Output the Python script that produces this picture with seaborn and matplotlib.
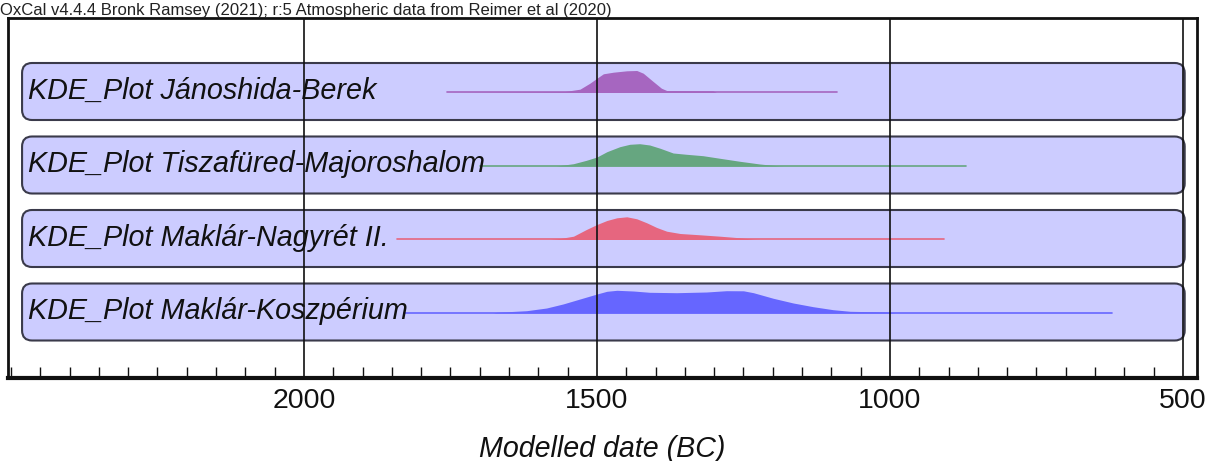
import matplotlib
matplotlib.use("Agg")
import matplotlib.pyplot as plt
from matplotlib.patches import FancyBboxPatch
from matplotlib.ticker import MultipleLocator, FixedLocator
import pandas as pd
import seaborn as sns

header = "OxCal v4.4.4 Bronk Ramsey (2021); r:5 Atmospheric data from Reimer et al (2020)"
labels = ["KDE_Plot Jánoshida-Berek", "KDE_Plot Tiszafüred-Majoroshalom",
          "KDE_Plot Maklár-Nagyrét II.", "KDE_Plot Maklár-Koszpérium"]
colors = ["#a666c0", "#66a680", "#e6667f", "#6666ff"]
major_ticks = [2000, 1500, 1000, 500]

# density outlines (year BC, height)
janoshida_year = [1756, 1555, 1529, 1512, 1500, 1489, 1472, 1449, 1432, 1421, 1404, 1390, 1381, 1302, 1296, 1090]
janoshida_dens = [0, 1, 3.3, 9.3, 14.3, 18.7, 20.3, 21.7, 22, 19.3, 11, 4.3, 2, 1.7, 0, 0]

tisza_year = [1700, 1569, 1540, 1518, 1500, 1483, 1461, 1444, 1427, 1410, 1392, 1370, 1347,
              1319, 1290, 1256, 1222, 1193, 1182, 870]
tisza_dens = [0, 0, 2.3, 5.7, 9, 14.3, 19.3, 21.7, 22.3, 21, 17.7, 13, 11.7,
              10.3, 7.7, 4.7, 2, 0.3, 0, 0]

nagyret_year = [1842, 1580, 1563, 1540, 1518, 1500, 1483, 1466, 1449, 1432, 1415, 1398, 1381,
                1358, 1324, 1290, 1256, 1233, 1222, 907]
nagyret_dens = [0, 0, 1, 3.3, 10, 15, 19, 21.7, 22.7, 20.7, 16.7, 12, 8.3,
                6, 4.7, 3.3, 1.7, 0.3, 0, 0]

koszp_year = [1830, 1677, 1671, 1620, 1586, 1558, 1529, 1500, 1483, 1466, 1438, 1410, 1364,
              1313, 1279, 1250, 1233, 1199, 1165, 1131, 1097, 1068, 1006, 991, 621]
koszp_dens = [0, 0, 0.7, 2.3, 5, 9, 14, 19, 21.7, 22.7, 22, 20.7, 20.3,
              21, 22.3, 22.2, 20.3, 14.7, 10, 6.3, 3.3, 1.7, 1, 0, 0]

series = [(janoshida_year, janoshida_dens), (tisza_year, tisza_dens),
          (nagyret_year, nagyret_dens), (koszp_year, koszp_dens)]

sns.set_theme(style="white")
plt.rcParams["font.family"] = ["Liberation Sans", "DejaVu Sans"]

fig = plt.figure(figsize=(12.17, 4.61), dpi=100)
ax = fig.add_axes([8 / 1217, 1 - 378 / 461, 1189 / 1217, 360 / 461])
ax.set_xlim(2505, 476)
ax.set_ylim(0, 360)

row_centers = [286.5, 213, 139.5, 66]
box_h = 57

for i, (yrs, dens) in enumerate(series):
    c = row_centers[i]
    base = c - 1
    box = FancyBboxPatch((497, c - box_h / 2), 2481 - 497, box_h,
                         boxstyle="round,pad=0,rounding_size=17",
                         mutation_aspect=10 / 17,
                         facecolor="#ccccff", edgecolor="#3a3a4a", lw=1.5, zorder=1)
    ax.add_patch(box)
    df = pd.DataFrame({"year": yrs, "y": [base + d for d in dens]})
    ax.fill_between(df["year"], base, df["y"], color=colors[i], lw=0, zorder=2)
    sns.lineplot(x=[yrs[0], yrs[-1]], y=[base, base], ax=ax, color=colors[i],
                 lw=1.2, zorder=2, estimator=None, sort=False)
    ax.text(2471, c + 1, labels[i], fontsize=20.7, style="italic",
            va="center", ha="left", color="#111111", zorder=5)

for t in major_ticks:
    ax.axvline(t, color="#111111", lw=1.2, zorder=3)

ax.xaxis.set_major_locator(FixedLocator(major_ticks))
ax.xaxis.set_minor_locator(MultipleLocator(50))
ax.tick_params(axis="x", which="both", direction="in", bottom=True, top=False,
               colors="#111111", labelsize=20.5, pad=7)
ax.tick_params(axis="x", which="minor", length=8, width=1)
ax.tick_params(axis="x", which="major", length=0)
ax.set_yticks([])
for side, sp in ax.spines.items():
    sp.set_visible(True)
    sp.set_color("#111111")
    sp.set_linewidth(2)
ax.spines["bottom"].set_linewidth(3)

ax.set_xlabel("Modelled date (BC)", fontsize=20.6, style="italic", labelpad=15,
              color="#111111")
fig.text(0.0, 1 - 11 / 461, header, fontsize=12, va="center", ha="left",
         color="#222222")

fig.savefig("out.png", dpi=100)
